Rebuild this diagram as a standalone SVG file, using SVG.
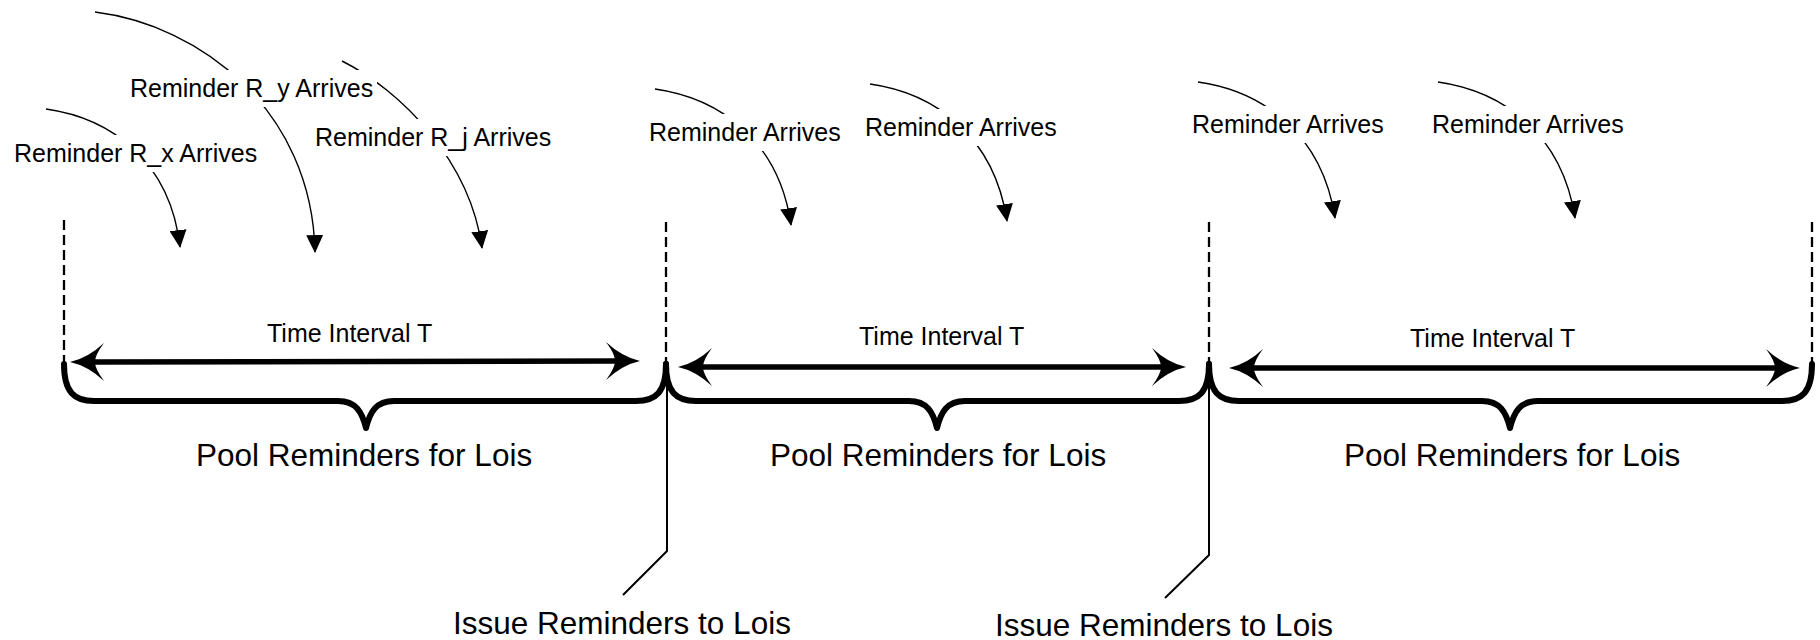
<svg xmlns="http://www.w3.org/2000/svg" width="1820" height="640" viewBox="0 0 1820 640">
<style>
.thin{fill:none;stroke:#000;stroke-width:1.4;marker-end:url(#tri)}
.dash{fill:none;stroke:#000;stroke-width:2.3;stroke-dasharray:10 5}
.big{fill:none;stroke:#000;stroke-width:5.5;marker-start:url(#curv);marker-end:url(#curv)}
.brace{fill:none;stroke:#000;stroke-width:6;stroke-linecap:round;stroke-linejoin:round}
.lead{fill:none;stroke:#000;stroke-width:2}
.bg{fill:#fff}
.lbl{font-family:"Liberation Sans",Arial,sans-serif;font-size:25px;fill:#000}
.big-t{font-family:"Liberation Sans",Arial,sans-serif;font-size:31.5px;fill:#000}
</style>
<defs>
<marker id="tri" markerUnits="userSpaceOnUse" markerWidth="18" markerHeight="17" viewBox="0 0 17 16" refX="16" refY="8" orient="auto">
<path d="M0,0 L17,8 L0,16 Z" fill="#000"/>
</marker>
<marker id="curv" markerUnits="userSpaceOnUse" markerWidth="34" markerHeight="38" viewBox="0 0 34 38" refX="10" refY="19" orient="auto-start-reverse">
<path d="M34,19 Q16,15 0,0 Q9,12 9,19 Q9,26 0,38 Q16,23 34,19 Z" fill="#000"/>
</marker>
</defs>

<g id="connectors">
<path class="dash" d="M64,220 L64,362"/>
<path class="dash" d="M666,222 L666,362"/>
<path class="dash" d="M1209,222 L1209,362"/>
<path class="dash" d="M1812,222 L1812,362"/>
<path class="thin" d="M46,109 c64,9 124,51 134,138"/>
<path class="thin" d="M95,12 C200,25 312,110 315,252"/>
<path class="thin" d="M342,61 C400,90 470,160 482,248"/>
<path class="thin" d="M655,89 c64,9 124,51 136,136"/>
<path class="thin" d="M870,84 c64,9 124,51 137,137"/>
<path class="thin" d="M1198,82 c64,9 124,51 137,136"/>
<path class="thin" d="M1438,82 c64,9 124,51 137,136"/>
<path class="big" d="M94,362 L616,361"/>
<path class="big" d="M702,367 L1162,367"/>
<path class="big" d="M1253,368 L1776,368"/>
<path class="brace" d="M64,364 C64,392 74,401 94,401 L338,401 C356,401 362,412 366,428 C370,412 376,401 394,401 L636,401 C656,401 666,392 666,364"/>
<path class="brace" d="M666,364 C666,392 676,401 696,401 L909,401 C927,401 933,412 937,428 C941,412 947,401 965,401 L1179,401 C1199,401 1209,392 1209,364"/>
<path class="brace" d="M1209,364 C1209,392 1219,401 1239,401 L1482,401 C1500,401 1506,412 1510,428 C1514,412 1520,401 1538,401 L1782,401 C1802,401 1812,392 1812,364"/>
<path class="lead" d="M667,364 L667,551 L623,595"/>
<path class="lead" d="M1209,364 L1209,555 L1165,598"/>
</g>

<g id="arrive-rx"><rect class="bg" x="12" y="135" width="248" height="37"/><text class="lbl" x="14" y="162">Reminder R_x Arrives</text></g>
<g id="arrive-ry"><rect class="bg" x="128" y="70" width="249" height="37"/><text class="lbl" x="130" y="97">Reminder R_y Arrives</text></g>
<g id="arrive-rj"><rect class="bg" x="313" y="119" width="242" height="37"/><text class="lbl" x="315" y="146">Reminder R_j Arrives</text></g>
<g id="arrive-1"><rect class="bg" x="647" y="114" width="197" height="37"/><text class="lbl" x="649" y="141">Reminder Arrives</text></g>
<g id="arrive-2"><rect class="bg" x="863" y="109" width="197" height="37"/><text class="lbl" x="865" y="136">Reminder Arrives</text></g>
<g id="arrive-3"><rect class="bg" x="1190" y="106" width="197" height="37"/><text class="lbl" x="1192" y="133">Reminder Arrives</text></g>
<g id="arrive-4"><rect class="bg" x="1430" y="106" width="197" height="37"/><text class="lbl" x="1432" y="133">Reminder Arrives</text></g>

<g id="interval-1"><text class="lbl" x="267" y="342">Time Interval T</text></g>
<g id="interval-2"><text class="lbl" x="859" y="345">Time Interval T</text></g>
<g id="interval-3"><text class="lbl" x="1410" y="347">Time Interval T</text></g>

<g id="pool-1"><text class="big-t" x="196" y="466">Pool Reminders for Lois</text></g>
<g id="pool-2"><text class="big-t" x="770" y="466">Pool Reminders for Lois</text></g>
<g id="pool-3"><text class="big-t" x="1344" y="466">Pool Reminders for Lois</text></g>

<g id="issue-1"><text class="big-t" x="453" y="634">Issue Reminders to Lois</text></g>
<g id="issue-2"><text class="big-t" x="995" y="636">Issue Reminders to Lois</text></g>
</svg>
